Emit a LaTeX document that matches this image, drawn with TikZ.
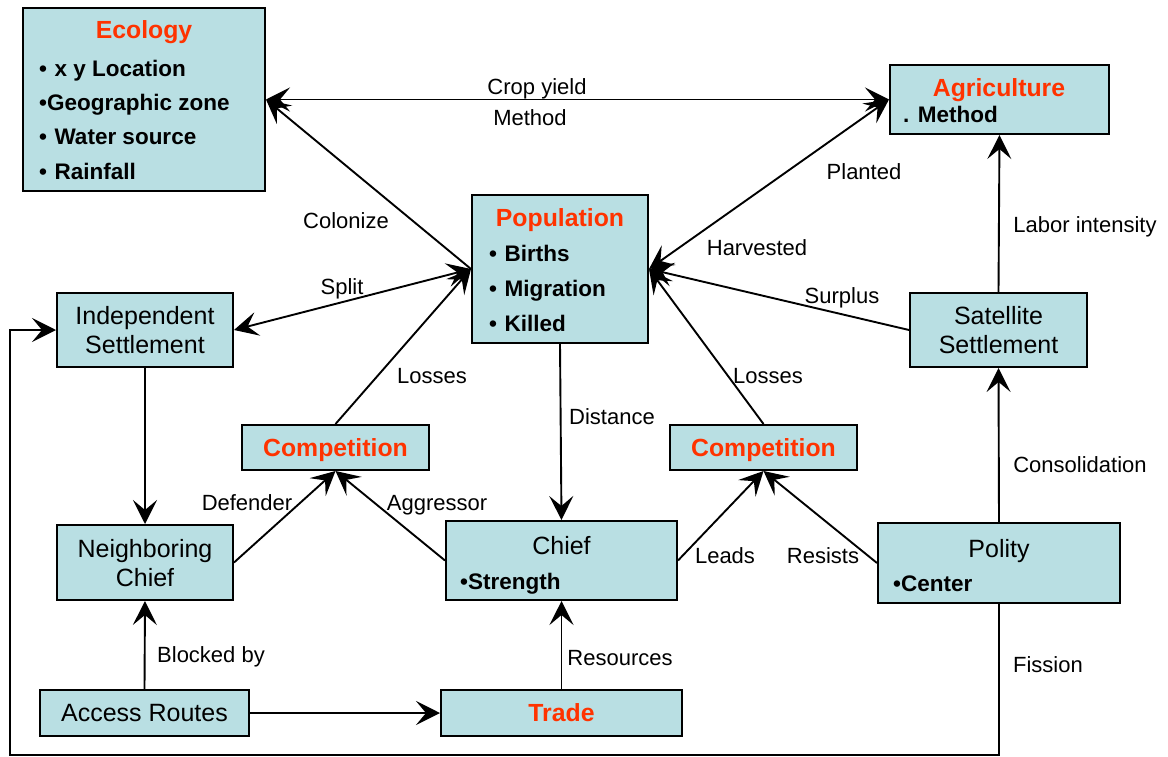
\documentclass[tikz,border=0pt]{standalone}
\usepackage{fontspec}
\setmainfont{Liberation Sans}
\usetikzlibrary{arrows.meta}
\definecolor{boxfill}{RGB}{185,223,227}
\definecolor{titlered}{RGB}{255,51,0}
\begin{document}
\begin{tikzpicture}[x=1pt,y=-1pt,
  box/.style={draw, line width=2pt, fill=boxfill, inner sep=0pt, text depth=0pt, font=\fontsize{25}{29}\selectfont, align=center},
  ttl/.style={anchor=base, inner sep=0pt, text=titlered, font=\fontsize{24.8}{29}\selectfont\bfseries},
  redbox/.style={box, text=titlered, font=\fontsize{24.8}{29}\selectfont\bfseries},
  item/.style={anchor=base west, inner sep=0pt, font=\fontsize{22.5}{27}\selectfont\bfseries},
  plain/.style={anchor=base, inner sep=0pt, font=\fontsize{25}{29}\selectfont},
  lab/.style={anchor=base, inner sep=0pt, font=\fontsize{22}{26}\selectfont},
  conn/.style={line width=1.9pt},
  arr/.style={conn, -{Stealth[length=24pt,width=24pt,inset=10pt]}},
  darr/.style={conn, {Stealth[length=24pt,width=24pt,inset=10pt]}-{Stealth[length=24pt,width=24pt,inset=10pt]}},
]
\useasboundingbox (0,0) rectangle (1168,757);

% boxes
\node[box, minimum width=242pt, minimum height=183pt] (eco) at (144,99.5) {};
\node[box, minimum width=219pt, minimum height=69pt] (agri) at (999.5,99.5) {};
\node[box, minimum width=176pt, minimum height=148pt] (pop) at (560,269) {};
\node[box, minimum width=176pt, minimum height=74pt] (ind) at (145,330) {Independent\\Settlement};
\node[box, minimum width=177pt, minimum height=74pt] (sat) at (998.5,330) {Satellite\\Settlement};
\node[redbox, minimum width=187pt, minimum height=45pt] (compL) at (335.5,447.5) {Competition};
\node[redbox, minimum width=187pt, minimum height=45pt] (compR) at (763.5,447.5) {Competition};
\node[box, minimum width=176pt, minimum height=75pt] (neigh) at (145,562.5) {Neighboring\\Chief};
\node[box, minimum width=231pt, minimum height=79pt] (chief) at (561.5,560.5) {};
\node[box, minimum width=242pt, minimum height=80pt] (polity) at (999,563) {};
\node[box, minimum width=209pt, minimum height=46pt] (access) at (144.5,713) {Access Routes};
\node[redbox, minimum width=241pt, minimum height=46pt] (trade) at (561.5,713) {Trade};

% texts inside boxes
\node[ttl] (ecoT) at (144,39) {Ecology};
\node[item] (eco1) at (39,77) {•\,\,x y Location};
\node[item] (eco2) at (39,111) {•Geographic zone};
\node[item] (eco3) at (39,145) {•\,\,Water source};
\node[item] (eco4) at (39,180) {•\,\,Rainfall};
\node[ttl] (agriT) at (999,97) {Agriculture};
\node[item] (agri1) at (903,123) {. Method};
\node[ttl] (popT) at (560,226) {Population};
\node[item] (pop1) at (489,261) {•\,\,Births};
\node[item] (pop2) at (489,296) {•\,\,Migration};
\node[item] (pop3) at (489,331) {•\,\,Killed};
\node[plain] (chiefT) at (561.5,554) {Chief};
\node[item] (chief1) at (460,589) {•Strength};
\node[plain] (polT) at (999,557) {Polity};
\node[item] (pol1) at (893,591) {•Center};

% bottom loop coordinates
\coordinate (l1) at (999,755);
\coordinate (l2) at (10,755);
\coordinate (l3) at (10,330);

% connectors
\draw[darr] (eco.east) -- (agri.west);
\draw[arr] (pop.west) -- (eco.east);
\draw[darr] (pop.west) -- (ind.east);
\draw[darr] (pop.east) -- (agri.west);
\draw[arr] (sat.west) -- (pop.east);
\draw[arr] (sat.north) -- (agri.south);
\draw[arr] (polity.north) -- (sat.south);
\draw[arr] (polity.south) -- (l1) -- (l2) -- (l3) -- (ind.west);
\draw[arr] (ind.south) -- (neigh.north);
\draw[arr] (access.north) -- (neigh.south);
\draw[arr] (access.east) -- (trade.west);
\draw[arr] (trade.north) -- (chief.south);
\draw[arr] (pop.south) -- (chief.north);
\draw[arr] (compL.north) -- (pop.west);
\draw[arr] (compR.north) -- (pop.east);
\draw[arr] (neigh.east) -- (compL.south);
\draw[arr] (chief.west) -- (compL.south);
\draw[arr] (chief.east) -- (compR.south);
\draw[arr] (polity.west) -- (compR.south);

% connector labels
\node[lab] (lcrop) at (537,95) {Crop yield};
\node[lab] (lmeth) at (530,126) {Method};
\node[lab] (lcol) at (346,228) {Colonize};
\node[lab] (lsplit) at (342,294) {Split};
\node[lab] (lplant) at (864,179) {Planted};
\node[lab] (lharv) at (757,255) {Harvested};
\node[lab] (llabor) at (1085,232) {Labor intensity};
\node[lab] (lsurp) at (842,303) {Surplus};
\node[lab] (llossL) at (432,383) {Losses};
\node[lab] (llossR) at (768,383) {Losses};
\node[lab] (ldist) at (612,424) {Distance};
\node[lab] (lcons) at (1080,472) {Consolidation};
\node[lab] (ldef) at (247,510) {Defender};
\node[lab] (lagg) at (437,510) {Aggressor};
\node[lab] (llead) at (725,563) {Leads};
\node[lab] (lres) at (823,563) {Resists};
\node[lab] (lblock) at (211,662) {Blocked by};
\node[lab] (lresc) at (620,665) {Resources};
\node[lab] (lfis) at (1048,672) {Fission};
\end{tikzpicture}
\end{document}
